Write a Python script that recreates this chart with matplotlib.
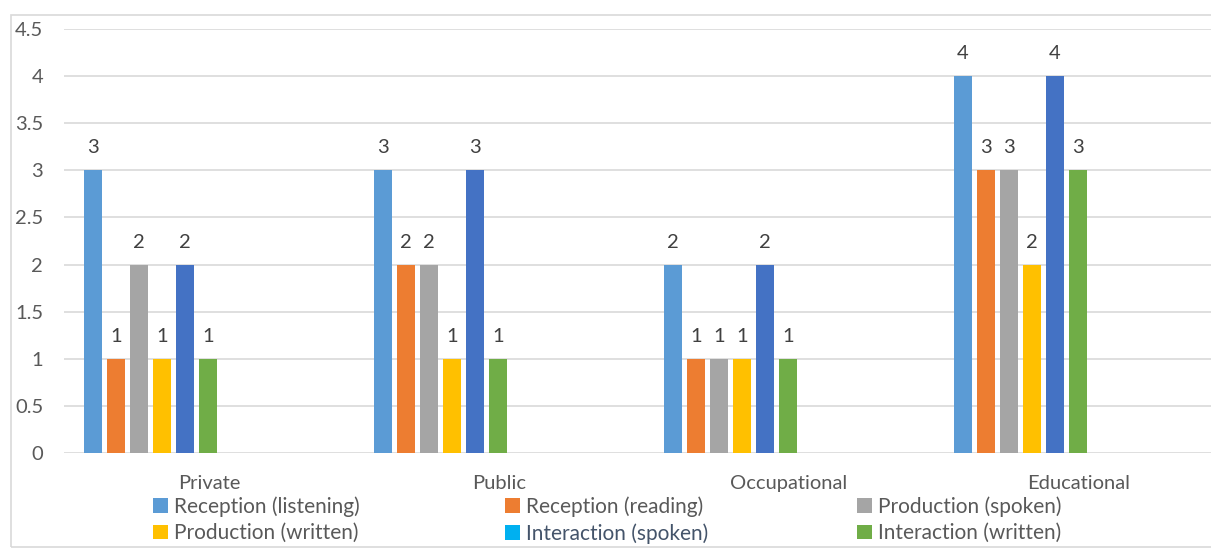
import matplotlib
matplotlib.use('Agg')
from matplotlib import pyplot as plt
from matplotlib.patches import Patch, Rectangle
import numpy as np

plt.rcParams['font.family'] = ['Lato', 'DejaVu Sans']

categories = ['Private', 'Public', 'Occupational', 'Educational']
series_names = ['Reception (listening)', 'Reception (reading)', 'Production (spoken)',
                'Production (written)', 'Interaction (spoken)', 'Interaction (written)']
listening = [3, 3, 2, 4]
reading = [1, 2, 1, 3]
prod_spoken = [2, 2, 1, 3]
prod_written = [1, 1, 1, 2]
inter_spoken = [2, 3, 2, 4]
inter_written = [1, 1, 1, 3]
all_series = [listening, reading, prod_spoken, prod_written, inter_spoken, inter_written]

bar_colors = ['#5B9BD5', '#ED7D31', '#A5A5A5', '#FFC000', '#4472C4', '#70AD47']
legend_colors = ['#5B9BD5', '#ED7D31', '#A5A5A5', '#FFC000', '#00B0F0', '#70AD47']
text_gray = '#595959'
grid_gray = '#D9D9D9'
fs = 14.5

W, H = 1211, 550
fig = plt.figure(figsize=(W / 100, H / 100), dpi=100)
ax = fig.add_axes([64 / W, (H - 453) / H, (W - 64) / W, 424 / H])

# chart border
fig.patches.append(Rectangle((11 / W, 3 / H), 1.2, (547 - 15) / H, transform=fig.transFigure,
                             fill=False, edgecolor=grid_gray, linewidth=1.2))

x = np.arange(len(categories))
width = 18 / 290
pitch = 23 / 290
first = -0.5 + 20 / 290 + width / 2
for i, vals in enumerate(all_series):
    bars = ax.bar(x + first + i * pitch, vals, width, color=bar_colors[i], zorder=3)
    ax.bar_label(bars, padding=10, fontsize=fs, color='#404040')

ax.set_ylim(0, 4.5)
ax.set_yticks(np.arange(0, 4.51, 0.5))
ax.set_yticklabels(['0', '0.5', '1', '1.5', '2', '2.5', '3', '3.5', '4', '4.5'])
ax.set_xlim(-0.5, 3.5 - 13 / 290)
ax.set_xticks(x)
ax.set_xticklabels(categories)
ax.grid(axis='y', color=grid_gray, linewidth=1.2, zorder=0)
for s in ax.spines.values():
    s.set_visible(False)
ax.tick_params(axis='both', length=0, labelsize=fs, labelcolor=text_gray)
ax.tick_params(axis='y', pad=15)
ax.tick_params(axis='x', pad=16)

handles = [Patch(facecolor=c) for c in legend_colors]
text_colors = [text_gray, text_gray, text_gray, text_gray, '#44546A', text_gray]
cols = [(0, 3), (1, 4), (2, 5)]
col_x = [153, 505, 857]
for (a, b), cx in zip(cols, col_x):
    leg = fig.legend([handles[a], handles[b]], [series_names[a], series_names[b]],
                     loc='upper left', bbox_to_anchor=(cx / W, 1 - 496 / H),
                     frameon=False, fontsize=15, handlelength=0.7, handleheight=0.7,
                     handletextpad=0.3, labelspacing=0.32, borderpad=0, borderaxespad=0)
    for t, idx in zip(leg.get_texts(), (a, b)):
        t.set_color(text_colors[idx])

fig.savefig('out.png', dpi=100)
